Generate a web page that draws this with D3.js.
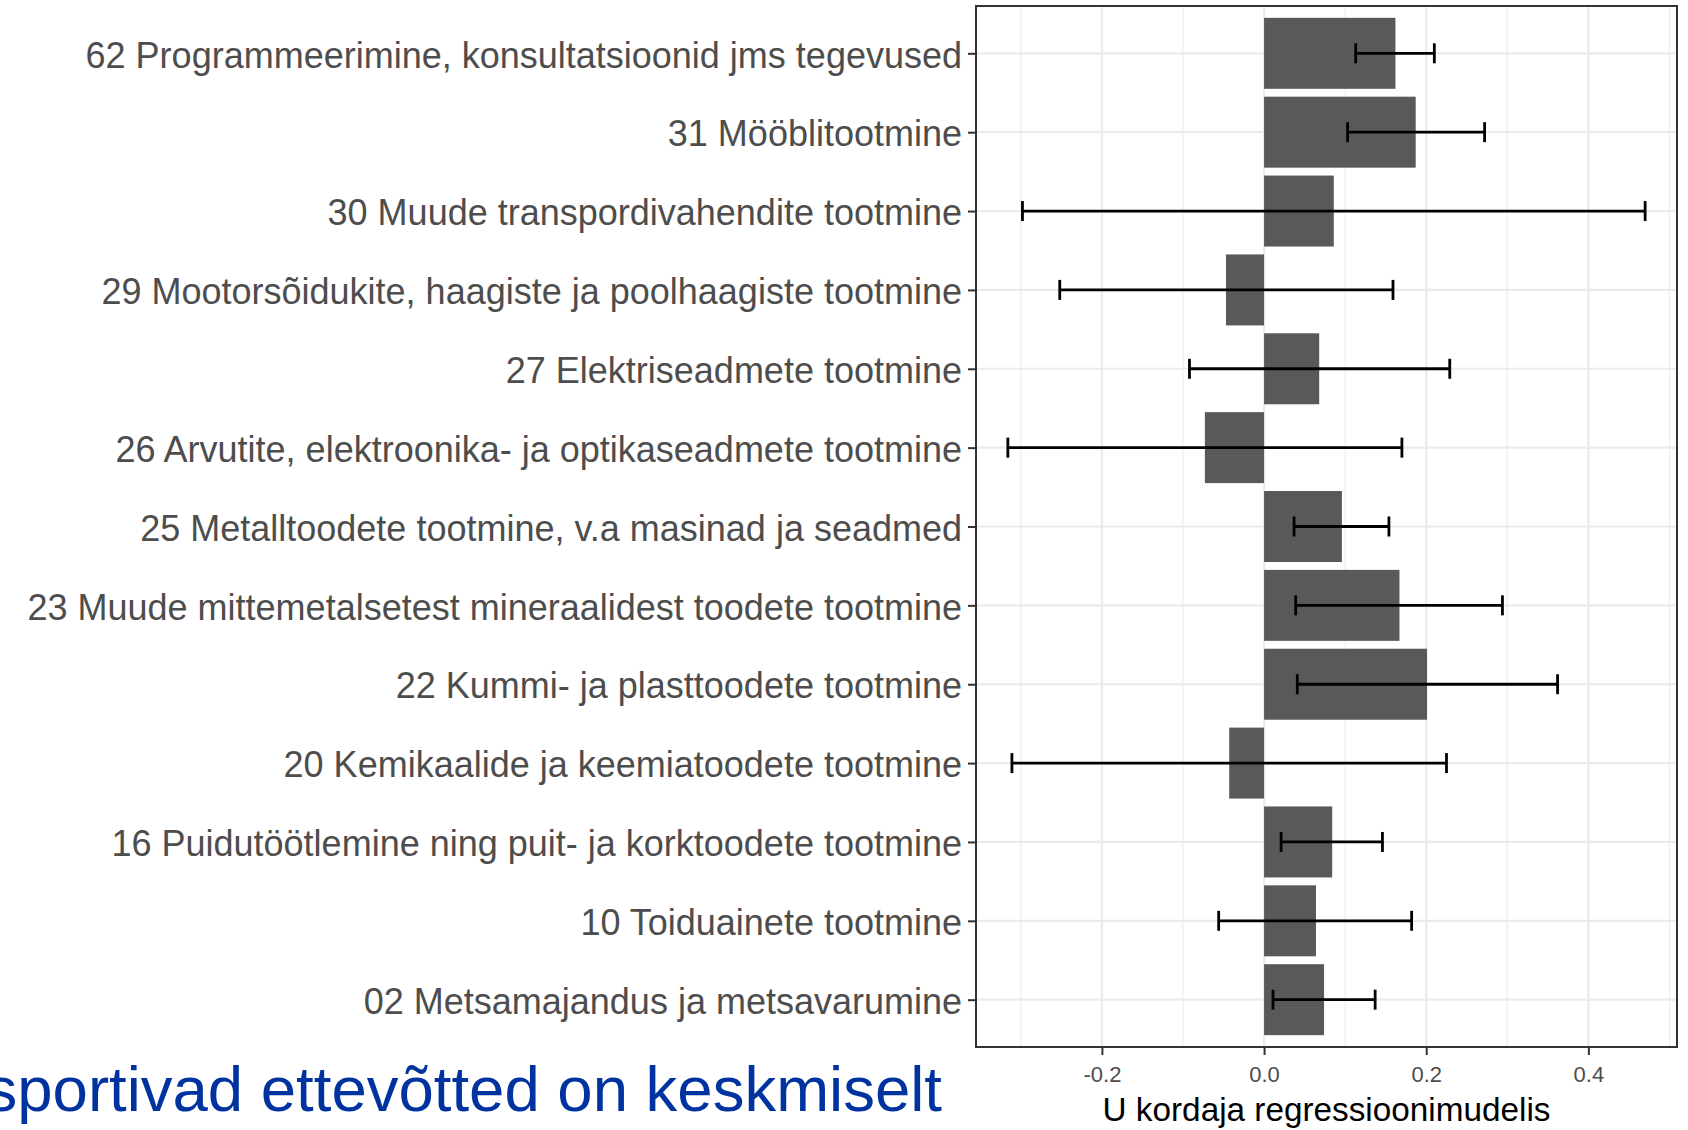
<!DOCTYPE html>
<html>
<head>
<meta charset="utf-8">
<script src="https://cdn.jsdelivr.net/npm/d3@7"></script>
<style>
  body { margin: 0; background: #fff; overflow: hidden; }
  svg { display: block; font-family: "Liberation Sans", Arial, sans-serif; }
</style>
</head>
<body>
<svg width="1688" height="1130"></svg>
<script>
// industries, top to bottom
var categories = [
    "62 Programmeerimine, konsultatsioonid jms tegevused",
    "31 Mööblitootmine",
    "30 Muude transpordivahendite tootmine",
    "29 Mootorsõidukite, haagiste ja poolhaagiste tootmine",
    "27 Elektriseadmete tootmine",
    "26 Arvutite, elektroonika- ja optikaseadmete tootmine",
    "25 Metalltoodete tootmine, v.a masinad ja seadmed",
    "23 Muude mittemetalsetest mineraalidest toodete tootmine",
    "22 Kummi- ja plasttoodete tootmine",
    "20 Kemikaalide ja keemiatoodete tootmine",
    "16 Puidutöötlemine ning puit- ja korktoodete tootmine",
    "10 Toiduainete tootmine",
    "02 Metsamajandus ja metsavarumine"
];
var coef  = [0.162, 0.187, 0.086, -0.047, 0.068, -0.073, 0.096, 0.167, 0.201, -0.043, 0.084, 0.064, 0.074];
var lower = [0.113, 0.103, -0.298, -0.252, -0.092, -0.316, 0.037, 0.039, 0.041, -0.311, 0.021, -0.056, 0.011];
var upper = [0.210, 0.272, 0.470, 0.159, 0.229, 0.170, 0.154, 0.294, 0.362, 0.225, 0.146, 0.182, 0.137];
var xTicks = [-0.2, 0.0, 0.2, 0.4];
var xMinor = [-0.3, -0.1, 0.1, 0.3, 0.5];
var xTitle = "U kordaja regressioonimudelis";
var slideText = "sportivad ettevõtted on keskmiselt";

var svg = d3.select("svg");

var panel = { left: 976, top: 6, right: 1677, bottom: 1047 };

var rows = categories.map(function(c, i) {
    return { name: c, coef: coef[i], lo: lower[i], hi: upper[i] };
});

// ggplot-like 5% expansion of the data range
var lo = d3.min(rows, (d) => Math.min(d.lo, d.coef, 0)),
    hi = d3.max(rows, (d) => Math.max(d.hi, d.coef, 0)),
    pad = (hi - lo) * 0.05;

var x = d3.scaleLinear()
    .domain([lo - pad, hi + pad])
    .range([panel.left, panel.right]);

var y = d3.scalePoint()
    .domain(categories)
    .range([panel.top, panel.bottom])
    .padding(0.6);

var barH = y.step() * 0.9;

// grid
var grid = svg.append("g").attr("class", "grid");

grid.selectAll(".minor")
    .data(xMinor.filter((v) => x(v) > panel.left && x(v) < panel.right))
    .enter().append("line")
    .attr("x1", (d) => x(d)).attr("x2", (d) => x(d))
    .attr("y1", panel.top).attr("y2", panel.bottom)
    .style("stroke", "#ebebeb")
    .style("stroke-width", 1.1);

grid.selectAll(".major")
    .data(xTicks)
    .enter().append("line")
    .attr("x1", (d) => x(d)).attr("x2", (d) => x(d))
    .attr("y1", panel.top).attr("y2", panel.bottom)
    .style("stroke", "#ebebeb")
    .style("stroke-width", 2.2);

grid.selectAll(".hmajor")
    .data(categories)
    .enter().append("line")
    .attr("x1", panel.left).attr("x2", panel.right)
    .attr("y1", (d) => y(d)).attr("y2", (d) => y(d))
    .style("stroke", "#ebebeb")
    .style("stroke-width", 2.2);

// bars
svg.append("g")
    .selectAll("rect")
    .data(rows)
    .enter().append("rect")
    .attr("x", (d) => x(Math.min(0, d.coef)))
    .attr("width", (d) => Math.abs(x(d.coef) - x(0)))
    .attr("y", (d) => y(d.name) - barH / 2)
    .attr("height", barH)
    .attr("fill", "#595959");

// error bars
var eb = svg.append("g")
    .selectAll("g")
    .data(rows)
    .enter().append("g")
    .style("stroke", "#000")
    .style("stroke-width", 2.8);

eb.append("line")
    .attr("x1", (d) => x(d.lo)).attr("x2", (d) => x(d.hi))
    .attr("y1", (d) => y(d.name)).attr("y2", (d) => y(d.name));
eb.append("line")
    .attr("x1", (d) => x(d.lo)).attr("x2", (d) => x(d.lo))
    .attr("y1", (d) => y(d.name) - 10).attr("y2", (d) => y(d.name) + 10);
eb.append("line")
    .attr("x1", (d) => x(d.hi)).attr("x2", (d) => x(d.hi))
    .attr("y1", (d) => y(d.name) - 10).attr("y2", (d) => y(d.name) + 10);

// panel border
svg.append("rect")
    .attr("x", panel.left).attr("y", panel.top)
    .attr("width", panel.right - panel.left)
    .attr("height", panel.bottom - panel.top)
    .attr("fill", "none")
    .style("stroke", "#333333")
    .style("stroke-width", 2);

// y axis
var yAxis = svg.append("g")
    .attr("transform", "translate(" + panel.left + ",0)")
    .call(d3.axisLeft(y).tickSize(8).tickPadding(6));
yAxis.select(".domain").remove();
yAxis.selectAll(".tick line").style("stroke", "#333333").style("stroke-width", 2);
yAxis.selectAll(".tick text")
    .attr("dy", "0.38em")
    .style("font-size", "36px")
    .style("fill", "#4d4d4d")
    .style("font-family", "Liberation Sans, Arial, sans-serif");

// x axis
var xAxis = svg.append("g")
    .attr("transform", "translate(0," + panel.bottom + ")")
    .call(d3.axisBottom(x).tickValues(xTicks).tickSize(8).tickPadding(11)
        .tickFormat((v) => d3.format(".1f")(v).replace("−", "-")));
xAxis.select(".domain").remove();
xAxis.selectAll(".tick line").style("stroke", "#333333").style("stroke-width", 2);
xAxis.selectAll(".tick text")
    .style("font-size", "22px")
    .style("fill", "#4d4d4d")
    .style("font-family", "Liberation Sans, Arial, sans-serif");

svg.append("text")
    .attr("x", (panel.left + panel.right) / 2)
    .attr("y", 1121)
    .attr("text-anchor", "middle")
    .style("font-size", "33.3px")
    .style("fill", "#000")
    .text(xTitle);

// slide text peeking out below the chart (cut at the left edge, as in the source)
svg.append("text")
    .attr("x", 942)
    .attr("y", 1111)
    .attr("text-anchor", "end")
    .style("font-size", "63.5px")
    .style("fill", "#0033a0")
    .text(slideText);
</script>
</body>
</html>
